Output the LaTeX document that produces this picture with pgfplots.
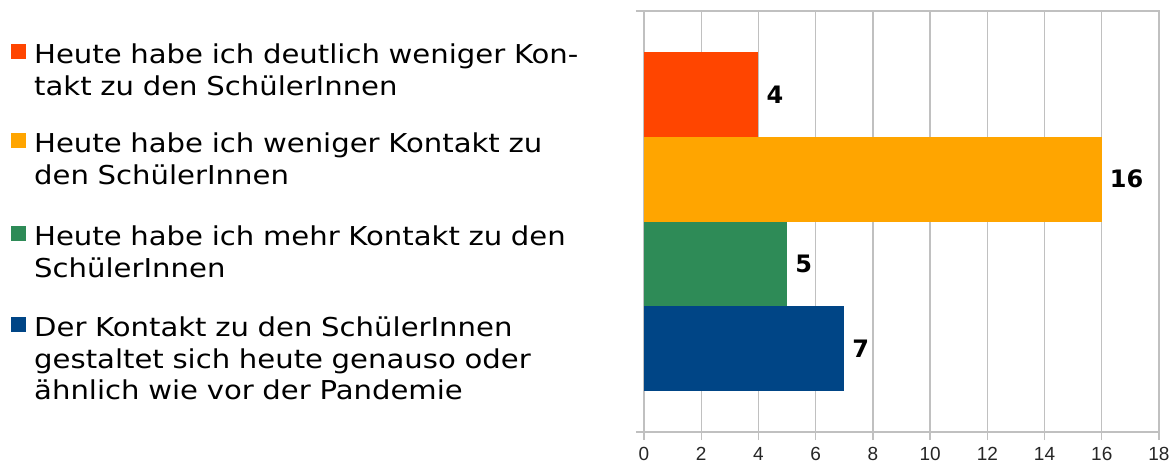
\documentclass[border=0pt]{standalone}
\usepackage{fontspec}
\setmainfont{DejaVu Sans}
\newfontfamily\legfont[FakeStretch=1.12]{DejaVu Sans}
\newfontfamily\tickfont{Liberation Sans}
\usepackage{pgfplots}
\pgfplotsset{compat=1.18}
\definecolor{cred}{HTML}{FF4500}
\definecolor{corange}{HTML}{FFA500}
\definecolor{cgreen}{HTML}{2E8B57}
\definecolor{cblue}{HTML}{004586}
\definecolor{cgrid}{HTML}{C0C0C0}
\tikzset{
  legtxt/.style={anchor=base west, inner sep=0pt, text width=570pt, align=left,
                 font=\legfont\fontsize{26}{31.5}\selectfont},
}

\begin{document}
\begin{tikzpicture}
\path[use as bounding box] (-644pt,-31pt) rectangle (527pt,432pt);
\begin{axis}[
  at={(0pt,0pt)}, anchor=south west,
  scale only axis, width=515pt, height=421pt,
  xbar, bar width=1, bar shift=0pt,
  xmin=0, xmax=18, xtick={0,2,...,18},
  ymin=-0.99, ymax=3.99, y dir=reverse,
  ytick={-0.99,3.99}, yticklabels={},
  tick pos=left, tick align=outside, major tick length=8pt,
  tick style={cgrid, line width=1.4pt},
  axis line style={cgrid, line width=1.4pt},
  xmajorgrids, grid style={cgrid, line width=1.4pt},
  xticklabel style={font=\tickfont\fontsize{19}{19}\selectfont, text=black!85, yshift=-4pt},
  /pgf/number format/assume math mode=true,
  nodes near coords,
  nodes near coords style={font=\bfseries\fontsize{24}{24}\selectfont, text=black, anchor=west, inner sep=0pt, xshift=8pt},
]
\addplot[fill=cred, draw=none] coordinates {(4,0)};
\addplot[fill=corange, draw=none] coordinates {(16,1)};
\addplot[fill=cgreen, draw=none] coordinates {(5,2)};
\addplot[fill=cblue, draw=none] coordinates {(7,3)};
\end{axis}
% legend
\fill[cred]    (-633pt,388pt) rectangle ++(15pt,-15.5pt);
\fill[corange] (-633pt,299pt) rectangle ++(15pt,-15.5pt);
\fill[cgreen]  (-633pt,206pt) rectangle ++(15pt,-15.5pt);
\fill[cblue]   (-633pt,115pt) rectangle ++(15pt,-15.5pt);
\node[legtxt] at (-610pt,368pt) {Heute habe ich deutlich weniger Kon-\\takt zu den SchülerInnen};
\node[legtxt] at (-610pt,279pt) {Heute habe ich weniger Kontakt zu\\den SchülerInnen};
\node[legtxt] at (-610pt,186pt) {Heute habe ich mehr Kontakt zu den\\SchülerInnen};
\node[legtxt] at (-610pt,95pt) {Der Kontakt zu den SchülerInnen\\gestaltet sich heute genauso oder\\ähnlich wie vor der Pandemie};
\end{tikzpicture}
\end{document}
